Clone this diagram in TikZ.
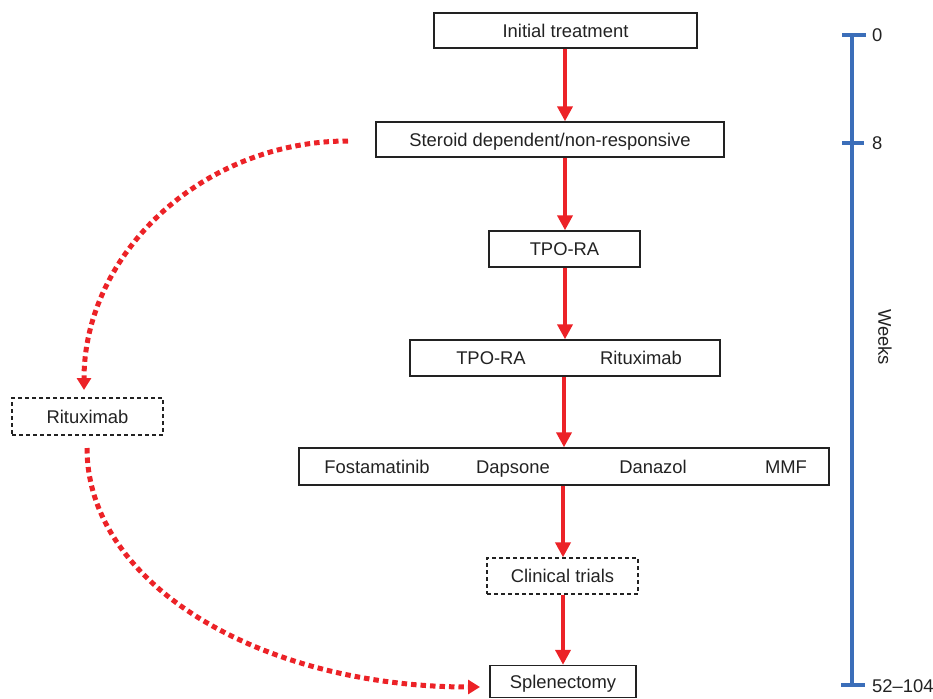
\documentclass[tikz,border=0pt]{standalone}
\usepackage{fontspec}
\setmainfont{Liberation Sans}
\usetikzlibrary{arrows.meta}
\definecolor{arrred}{HTML}{EC2227}
\definecolor{axblue}{HTML}{3B6EB9}
\definecolor{boxgray}{HTML}{222222}
\begin{document}
\begin{tikzpicture}[x=1pt,y=-1pt,
  every node/.style={font=\fontsize{18.4}{20}\selectfont, text=boxgray, text height=13.2pt, text depth=0pt},
  solidbox/.style={draw=boxgray, line width=1.4pt, inner sep=0pt},
  dashbox/.style={draw=boxgray, line width=1.3pt, dash pattern=on 4pt off 3pt, inner sep=0pt},
  lbl/.style={inner sep=0pt},
  mainarrow/.style={draw=arrred, line width=4pt, -{Triangle[width=15pt,length=15pt]}},
  dotarrow/.style={draw=arrred, line width=5pt, dash pattern=on 5.5pt off 4pt, -{Triangle[width=14pt,length=12pt]}},
  axis/.style={draw=axblue, line width=4pt},
  ticklbl/.style={anchor=west, inner sep=0pt}
]
\useasboundingbox (0,0) rectangle (933,698);

% boxes
\node[solidbox, minimum width=263pt, minimum height=35pt] (init) at (565.5,30.5) {Initial treatment};
\node[solidbox, minimum width=348pt, minimum height=35pt] (ster) at (550,139.5) {Steroid dependent/non-responsive};
\node[solidbox, minimum width=151pt, minimum height=36pt] (tpo) at (564.5,249) {TPO-RA};
\node[solidbox, minimum width=310pt, minimum height=36pt] (tporit) at (565,358) {};
\node[lbl] (tporitA) at (491,358) {TPO-RA};
\node[lbl] (tporitB) at (641,358) {Rituximab};
\node[solidbox, minimum width=530pt, minimum height=37pt] (four) at (564,466.5) {};
\node[lbl] (fosta) at (377,466.5) {Fostamatinib};
\node[lbl] (daps) at (513,466.5) {Dapsone};
\node[lbl] (dana) at (653,466.5) {Danazol};
\node[lbl] (mmf) at (786,466.5) {MMF};
\node[dashbox, minimum width=151pt, minimum height=36pt] (clin) at (562.5,576) {Clinical trials};
\node[solidbox, minimum width=146pt, minimum height=32pt] (spl) at (563,681.5) {Splenectomy};
\node[dashbox, minimum width=151pt, minimum height=37pt] (rit) at (87.5,416.5) {Rituximab};

% main arrows
\draw[mainarrow] (init.south -| 565,0) -- (ster.north -| 565,0);
\draw[mainarrow] (ster.south -| 565,0) -- (tpo.north -| 565,0);
\draw[mainarrow] (tpo.south -| 565,0) -- (tporit.north -| 565,0);
\draw[mainarrow] (tporit.south -| 564,0) -- (four.north -| 564,0);
\draw[mainarrow] (four.south -| 563,0) -- (clin.north -| 563,0);
\draw[mainarrow] (clin.south -| 563,0) -- (spl.north -| 563,0);

% dotted curves
\coordinate (c1s) at (348,141);
\coordinate (c1e) at (84,390);
\draw[dotarrow] (c1s) .. controls (203,141) and (84,253) .. (c1e);
\coordinate (c2s) at (87,448);
\coordinate (c2e) at (480,687);
\draw[dotarrow] (c2s) .. controls (87,585) and (262,687) .. (c2e);

% weeks axis
\coordinate (axtop) at (852,35);
\coordinate (axbot) at (852,685);
\draw[axis] (axtop) -- (axbot);
\draw[axis] (842,35) -- (866,35);
\draw[axis] (842,143) -- (864,143);
\draw[axis] (841,685) -- (865,685);
\node[ticklbl] (w0) at (872,35) {0};
\node[ticklbl] (w8) at (872,143) {8};
\node[ticklbl] (w52) at (872,686) {52–104};
\node[rotate=-90, inner sep=0pt] (weeks) at (885,337) {Weeks};
\end{tikzpicture}
\end{document}
